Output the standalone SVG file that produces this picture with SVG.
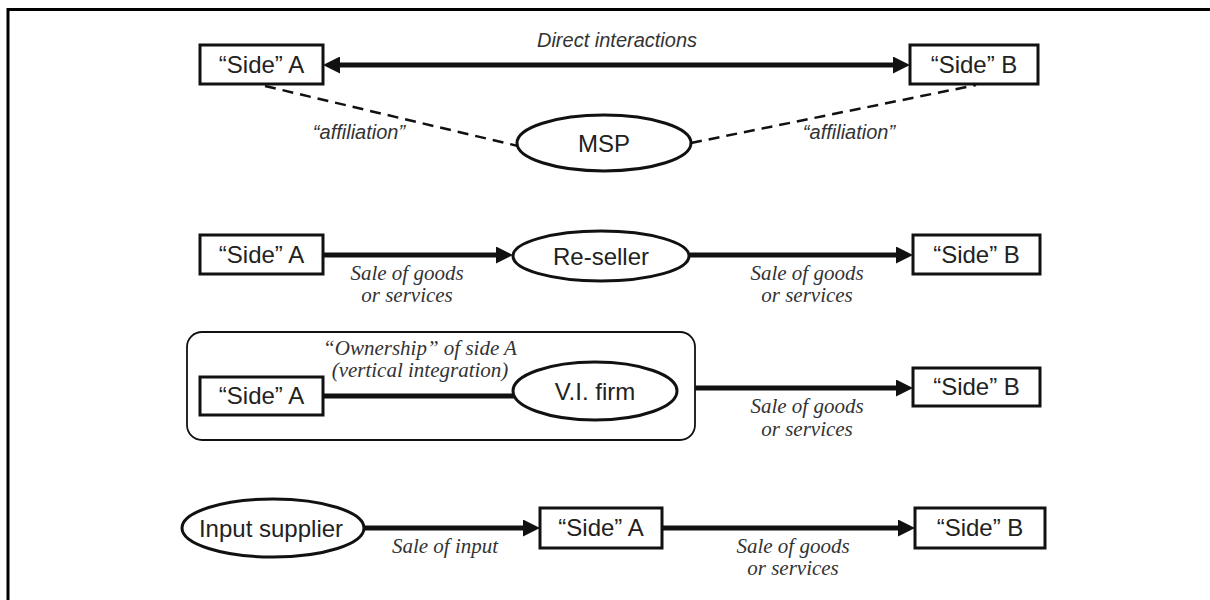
<svg xmlns="http://www.w3.org/2000/svg" width="1210" height="600" viewBox="0 0 1210 600">
  <style>
    .box { fill: #fff; stroke: #111; stroke-width: 3; }
    .oval { fill: #fff; stroke: #111; stroke-width: 3; }
    .node { font-family: "Liberation Sans", Arial, sans-serif; font-size: 24px; fill: #222; text-anchor: middle; }
    .sans-i { font-family: "Liberation Sans", Arial, sans-serif; font-style: italic; font-size: 20px; fill: #333; text-anchor: middle; }
    .serif-i { font-family: "Liberation Serif", "Times New Roman", serif; font-style: italic; font-size: 21px; fill: #333; text-anchor: middle; }
    .flow { stroke: #111; stroke-width: 5; fill: none; }
    .dash { stroke: #111; stroke-width: 2.5; stroke-dasharray: 11 7; fill: none; }
  </style>
  <defs>
    <marker id="head" viewBox="0 0 17 17" refX="4" refY="8.5" markerWidth="17" markerHeight="17" markerUnits="userSpaceOnUse" orient="auto-start-reverse">
      <path d="M0,0 L17,8.5 L0,17 z" fill="#111"/>
    </marker>
  </defs>

  <rect width="1210" height="600" fill="#fff"/>
  <!-- frame -->
  <path d="M8,600 V9.5 H1210" fill="none" stroke="#000" stroke-width="3"/>

  <!-- vertical-integration enclosure -->
  <rect id="vi-group" x="187" y="332" width="508" height="108" rx="15" fill="none" stroke="#111" stroke-width="1.8"/>

  <g id="connectors">
    <!-- row 1 -->
    <line class="flow" x1="336" y1="65" x2="897" y2="65" marker-start="url(#head)" marker-end="url(#head)"/>
    <line class="dash" x1="265" y1="86" x2="518" y2="146"/>
    <line class="dash" x1="691" y1="143" x2="976" y2="85" stroke-width="3"/>
    <!-- row 2 -->
    <line class="flow" x1="323" y1="255" x2="500" y2="255" marker-end="url(#head)"/>
    <line class="flow" x1="690" y1="255" x2="900" y2="255" marker-end="url(#head)"/>
    <!-- row 3 -->
    <line class="flow" x1="323" y1="396" x2="514" y2="396"/>
    <line class="flow" x1="695" y1="388" x2="900" y2="388" marker-end="url(#head)"/>
    <!-- row 4 -->
    <line class="flow" x1="365" y1="528" x2="527" y2="528" marker-end="url(#head)"/>
    <line class="flow" x1="662" y1="528" x2="902" y2="528" marker-end="url(#head)"/>
  </g>

  <g id="connector-labels">
    <text class="sans-i" x="617" y="47">Direct interactions</text>
    <text class="sans-i" x="359" y="139">“affiliation”</text>
    <text class="sans-i" x="849" y="139">“affiliation”</text>
    <text class="serif-i" x="407" y="280">Sale of goods</text>
    <text class="serif-i" x="407" y="302">or services</text>
    <text class="serif-i" x="807" y="280">Sale of goods</text>
    <text class="serif-i" x="807" y="302">or services</text>
    <text class="serif-i" x="420" y="355" font-size="18">“Ownership” of side A</text>
    <text class="serif-i" x="420" y="377" font-size="18">(vertical integration)</text>
    <text class="serif-i" x="807" y="413">Sale of goods</text>
    <text class="serif-i" x="807" y="436">or services</text>
    <text class="serif-i" x="445" y="553">Sale of input</text>
    <text class="serif-i" x="793" y="553">Sale of goods</text>
    <text class="serif-i" x="793" y="575">or services</text>
  </g>

  <!-- row 1: multi-sided platform -->
  <g id="r1-sideA">
    <rect class="box" x="200" y="45" width="123" height="39"/>
    <text class="node" x="261.5" y="73">“Side” A</text>
  </g>
  <g id="r1-sideB">
    <rect class="box" x="910" y="45" width="128" height="39"/>
    <text class="node" x="974" y="73">“Side” B</text>
  </g>
  <g id="r1-msp">
    <ellipse class="oval" cx="604" cy="143" rx="87" ry="28"/>
    <text class="node" x="604" y="152" font-size="23">MSP</text>
  </g>

  <!-- row 2: re-seller -->
  <g id="r2-sideA">
    <rect class="box" x="200" y="235" width="123" height="39"/>
    <text class="node" x="261.5" y="263">“Side” A</text>
  </g>
  <g id="r2-reseller">
    <ellipse class="oval" cx="601" cy="256" rx="88" ry="25"/>
    <text class="node" x="601" y="265" font-size="25">Re-seller</text>
  </g>
  <g id="r2-sideB">
    <rect class="box" x="913" y="235" width="127" height="39"/>
    <text class="node" x="976.5" y="263">“Side” B</text>
  </g>

  <!-- row 3: vertical integration -->
  <g id="r3-sideA">
    <rect class="box" x="200" y="377" width="123" height="38"/>
    <text class="node" x="261.5" y="404">“Side” A</text>
  </g>
  <g id="r3-vifirm">
    <ellipse class="oval" cx="595" cy="391" rx="82" ry="29"/>
    <text class="node" x="595" y="400" font-size="25">V.I. firm</text>
  </g>
  <g id="r3-sideB">
    <rect class="box" x="913" y="368" width="127" height="38"/>
    <text class="node" x="976.5" y="395">“Side” B</text>
  </g>

  <!-- row 4: input supplier -->
  <g id="r4-supplier">
    <ellipse class="oval" cx="273" cy="528" rx="91" ry="29"/>
    <text class="node" x="271" y="537" font-size="25">Input supplier</text>
  </g>
  <g id="r4-sideA">
    <rect class="box" x="540" y="508" width="122" height="40"/>
    <text class="node" x="601" y="536">“Side” A</text>
  </g>
  <g id="r4-sideB">
    <rect class="box" x="915" y="508" width="130" height="40"/>
    <text class="node" x="980" y="536">“Side” B</text>
  </g>
</svg>
